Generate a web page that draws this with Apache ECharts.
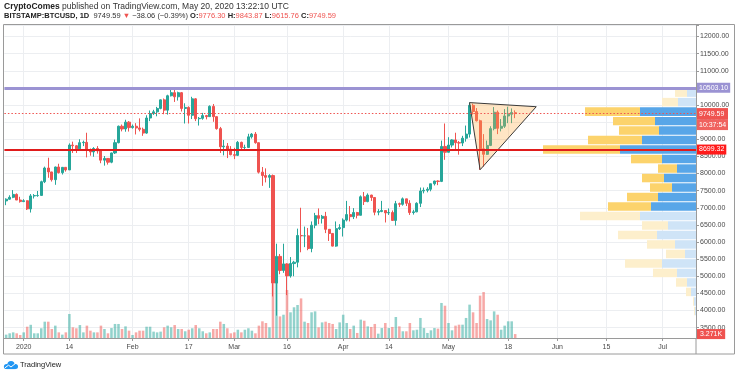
<!DOCTYPE html>
<html><head><meta charset="utf-8">
<script src="https://cdn.jsdelivr.net/npm/echarts@6/dist/echarts.min.js"></script>
<style>html,body{margin:0;padding:0;background:#fff}#c{width:736px;height:375px}</style>
</head><body><div id="c"></div>
<script>
// ---------------- data ----------------
const startDate = '2019-12-27';   // first category (first visible daily candle)
const dayCount = 197;             // categories through 2020-07-10 (right edge of the time axis)
const tickDates  = ['2020-01-01','2020-01-14','2020-02-01','2020-02-17','2020-03-01','2020-03-16','2020-04-01','2020-04-14','2020-05-01','2020-05-18','2020-06-01','2020-06-15','2020-07-01'];
const tickLabels = ['2020','14','Feb','17','Mar','16','Apr','14','May','18','Jun','15','Jul'];

// daily OHLC, 2019-12-27 .. 2020-05-20
const opens = [7200,7250,7305,7390,7225,
 7180,7205,6965,7345,7355,7360,7760,8160,8045,7820,8190,8025,8180,8105,8830,8810,8720,8900,8910,8700,8630,8730,8660,8390,8440,8330,8600,8900,9380,9300,9500,
 9340,9380,9330,9290,9180,9620,9750,9800,9900,10150,9850,10270,10360,10240,10360,9900,9930,9700,10180,9600,9610,9690,9660,9960,9660,9310,8780,8800,8710,
 8550,8530,8910,8760,8760,9070,9150,8900,8040,7940,7890,7940,4800,5580,5170,5360,5010,5370,5410,6190,6180,6180,5810,6490,6770,6690,6750,6370,6250,5880,6390,
 6420,6640,6800,6740,6860,6780,7320,7180,7370,7300,6870,6890,6920,6850,6860,6630,7120,7100,7260,7130,6860,6880,7130,7490,7510,7540,7700,7780,7770,8790,
 8620,8830,8980,8900,8890,9030,9150,9990,9810,9540,8720,8560,8820,9310,9790,9320,9380,9680,9730,9776.30];
const highs = [7275,7365,7515,7420,7320,
 7250,7215,7400,7400,7490,7790,8200,8460,8050,8200,8285,8190,8190,8880,8930,8830,9000,8960,9190,8730,8770,8800,8670,8510,8450,8610,8990,9400,9430,9570,9530,
 9430,9470,9610,9340,9700,9840,9860,9945,10160,10190,10300,10480,10500,10390,10380,10050,9960,10240,10200,9650,9770,9710,9990,10030,9670,9360,8980,8890,8800,
 8750,8950,8930,8840,9160,9180,9210,8900,8190,8150,7980,7970,5950,5650,5950,5380,5560,5450,6390,7000,6450,6410,6600,6850,6980,6790,6880,6380,6260,6600,6520,
 6690,7200,7050,6990,6880,7360,7460,7420,7380,7310,6960,7200,6930,6980,6920,7200,7150,7300,7260,7220,6940,7160,7590,7590,7600,7700,7790,7800,8960,9460,
 9060,9000,9190,8950,9100,9400,10070,10040,9910,9570,9150,8960,9380,9940,9840,9590,9880,9950,9900,9843.87];
const lows = [7075,7235,7280,7225,7150,
 7165,6935,6860,7270,7320,7350,7720,7875,7765,7670,8000,7970,8055,8105,8600,8600,8670,8800,8470,8520,8490,8580,8300,8230,8260,8300,8570,8880,9230,9220,9225,
 9310,9140,9230,9100,9160,9530,9710,9670,9875,9730,9720,10250,10090,10130,9810,9460,9460,9590,9530,9400,9570,9580,9650,9510,9280,8600,8530,8450,8530,
 8420,8510,8660,8670,8760,9020,8870,8000,7640,7740,7580,4410,3850,5060,5100,4450,4960,5000,5260,5700,5850,5760,5700,6400,6520,6540,6260,6030,5870,5860,6350,
 6160,6600,6600,6670,6690,6780,7080,7160,7200,6780,6780,6870,6570,6790,6620,6480,7020,7060,7050,6790,6800,6870,7020,7420,7450,7480,7650,7660,7750,8400,
 8620,8760,8710,8550,8800,8930,9050,9720,9520,8110,8200,8540,8800,9260,9150,9230,9330,9470,9470,9615.76];
const closes = [7250,7305,7390,7225,7180,
 7205,6965,7345,7355,7360,7760,8160,8045,7820,8190,8025,8180,8105,8830,8810,8720,8900,8910,8700,8630,8730,8660,8390,8440,8330,8600,8900,9380,9300,9500,9340,
 9380,9330,9290,9180,9620,9750,9800,9900,10150,9850,10270,10360,10240,10360,9900,9930,9700,10180,9600,9610,9690,9660,9960,9660,9310,8780,8800,8710,8550,
 8530,8910,8760,8760,9070,9150,8900,8040,7940,7890,7940,4800,5580,5170,5360,5010,5370,5410,6190,6180,6180,5810,6490,6770,6690,6750,6370,6250,5880,6390,6420,
 6640,6800,6740,6860,6780,7320,7180,7370,7300,6870,6890,6920,6850,6860,6630,7120,7100,7260,7130,6860,6880,7130,7490,7510,7540,7700,7780,7770,8790,8620,
 8830,8980,8900,8890,9030,9150,9990,9810,9540,8720,8560,8820,9310,9790,9320,9380,9680,9730,9780,9749.59];
// daily volume, thousands of BTC
const volumesK = [2.8,3.9,4.7,3.9,2.5,
 4.7,9.4,11,3.9,3.9,8.1,13.6,13.6,7.5,10.3,4.7,2.8,4.7,20,8.9,8.1,10.8,4.7,10.3,6.1,4.7,4.7,10.3,7.5,3.9,8.3,11.7,11.7,7.5,9.7,6.1,
 2.5,4.7,6.1,6.1,9.4,9.4,5.3,4.7,5.3,8.9,10.3,8.9,10.8,7.5,7.5,5.6,6.9,8.1,10.8,8.1,5.6,3.9,4.7,7.5,7.5,13.6,11.7,8.1,3.9,
 4.7,6.9,4.7,6.9,8.1,6.1,3.9,10.3,13.9,12.5,8.9,45,50,18,19.4,40,21.4,25.6,27.5,33,13.6,12.5,21.4,22.2,8.9,13,13.6,12.5,11.7,7.5,13,
 19.4,12.5,7.5,10.3,4.2,15.3,14.4,9.7,9.2,11.7,3.6,8.3,12.5,8.3,9.2,17.5,9.7,5.6,5.6,12.5,6.4,6.9,16.7,8.3,4.2,6.4,8.3,7.8,29.2,26.9,
 12.5,6.4,10.3,11.1,11.1,16.7,27.8,21.4,12.5,35.3,38.3,15.8,14.7,22.2,19.4,6.9,10.3,13.9,13.9,3.271];

// horizontal levels
const resistanceLevel = 10503.10;
const supportLevel = 8699.32;
const lastPrice = 9749.59;
const countdown = '10:37:54';
const lastVolumeLabel = '3.271K';
const lastVolumeK = 3.271;

// symmetrical triangle drawing (date, price)
const triangleDates  = ['2020-05-07','2020-05-26','2020-05-10'];
const trianglePrices = [10070, 9950, 8110];

// visible-range volume profile: bin low prices, up / down volume (relative), value-area flag
const profileLow  = [3850,4127,4404,4681,4958,5235,5512,5790,6067,6344,6621,6898,7175,7452,7729,8006,8283,8560,8837,9114,9391,9668,9946,10223];
const profileHigh = [4127,4404,4681,4958,5235,5512,5790,6067,6344,6621,6898,7175,7452,7729,8006,8283,8560,8837,9114,9391,9668,9946,10223,10500];
const profileUp   = [1,2,5,9,19,34,11,21,39,28,56,45,38,24,32,19,34,76,54,37,41,56,18,9];
const profileDown = [1,1,5,11,24,37,19,28,39,26,60,43,31,22,22,19,31,77,54,40,42,55,16,12];
const profileVA   = [0,0,0,0,0,0,0,0,0,0,0,1,1,1,1,1,1,1,1,1,1,1,0,0];

// ---------------- build ----------------
const categories = [];
{
  const t0 = Date.parse(startDate + 'T00:00:00Z');
  for (let i = 0; i < dayCount; i++) categories.push(new Date(t0 + i * 86400000).toISOString().slice(0, 10));
}
const isTick = (idx, val) => tickDates.indexOf(val) >= 0;
const UP = '#26a69a', DOWN = '#ef5350';
const FONT = '"Liberation Sans", Arial, sans-serif';
const candleData = opens.map((o, i) => [o, closes[i], lows[i], highs[i]]);
const volumeData = volumesK.map((v, i) => ({ value: v, itemStyle: { color: closes[i] >= opens[i] ? 'rgba(38,166,154,0.5)' : 'rgba(239,83,80,0.5)' } }));
const profileData = profileLow.map((lo, i) => [lo, profileHigh[i], profileUp[i], profileDown[i], profileVA[i]]);
const yMin = 3197, yMax = 12336;

const boxLabel = (bg) => ({
  show: true, position: 'end', distance: 1, color: '#fff', fontSize: 7, fontFamily: FONT,
  backgroundColor: bg, padding: [2, 2, 1, 2], formatter: p => Number(p.value).toFixed(2)
});

const option = {
  animation: false,
  textStyle: { fontFamily: FONT },
  title: [
    { left: 4, top: 2, padding: 0, text: '{b|CryptoComes} published on TradingView.com, May 20, 2020 13:22:10 UTC',
      textStyle: { fontSize: 8.5, fontWeight: 'normal', color: '#333', fontFamily: FONT,
        rich: { b: { fontSize: 8.5, fontWeight: 'bold', color: '#222', fontFamily: FONT } } } },
    { left: 4, top: 12, padding: 0,
      text: '{b|BITSTAMP:BTCUSD, 1D}  {n|9749.59} {r|▼} {n|−38.06 (−0.39%)} {b|O:}{r|9776.30} {b|H:}{r|9843.87} {b|L:}{r|9615.76} {b|C:}{r|9749.59}',
      textStyle: { fontSize: 7.5, fontWeight: 'normal', color: '#333', fontFamily: FONT,
        rich: { b: { fontSize: 7.5, fontWeight: 'bold', color: '#222', fontFamily: FONT },
                n: { fontSize: 7.5, color: '#333', fontFamily: FONT },
                r: { fontSize: 7.5, color: '#ef5350', fontFamily: FONT } } } },
    { left: 20, top: 361, padding: 0, text: 'TradingView', textStyle: { fontSize: 7.5, fontWeight: 'normal', color: '#222', fontFamily: FONT } }
  ],
  grid: [
    { left: 4.4, right: 40, top: 25, bottom: 37 },
    { left: 4.4, right: 40, bottom: 37, height: 120 },
    { right: 40, width: 156, top: 25, bottom: 37 }
  ],
  xAxis: [
    { type: 'category', gridIndex: 0, data: categories, boundaryGap: true,
      axisLine: { show: true, lineStyle: { color: '#9a9a9a', width: 1 } },
      axisTick: { show: true, interval: isTick, alignWithLabel: true, length: 3, lineStyle: { color: '#9a9a9a' } },
      axisLabel: { interval: isTick, formatter: v => tickLabels[tickDates.indexOf(v)] || '', fontSize: 7, color: '#4a4a4a', margin: 6, fontFamily: FONT },
      splitLine: { show: true, interval: isTick, alignWithLabel: true, lineStyle: { color: '#eceef1', width: 1 } } },
    { type: 'category', gridIndex: 1, data: categories, boundaryGap: true, show: false },
    { type: 'value', gridIndex: 2, min: 0, max: 156, inverse: true, show: false }
  ],
  yAxis: [
    { type: 'value', gridIndex: 0, position: 'right', min: yMin, max: yMax, splitNumber: 18,
      axisLine: { show: true, lineStyle: { color: '#9a9a9a', width: 1 } },
      axisTick: { show: true, length: 3, lineStyle: { color: '#9a9a9a' } },
      axisLabel: { fontSize: 7, color: '#4a4a4a', margin: 4, fontFamily: FONT,
        formatter: v => (Math.abs(v % 500) < 1e-6 ? v.toFixed(2) : '') },
      splitLine: { show: true, lineStyle: { color: '#eceef1', width: 1 } } },
    { type: 'value', gridIndex: 1, min: 0, max: 100, show: false },
    { type: 'value', gridIndex: 2, min: yMin, max: yMax, show: false }
  ],
  series: [
    { type: 'bar', name: 'Volume', xAxisIndex: 1, yAxisIndex: 1, data: volumeData, barWidth: '72%', z: 1,
      markLine: { symbol: 'none', silent: true, animation: false,
        data: [{ yAxis: lastVolumeK, lineStyle: { color: 'rgba(0,0,0,0)', width: 1 },
          label: { show: true, position: 'end', distance: 1, color: '#fff', fontSize: 7, fontFamily: FONT,
            backgroundColor: '#ef5350', padding: [2, 3, 1, 3], formatter: lastVolumeLabel } }] } },
    { type: 'candlestick', name: 'BTCUSD', xAxisIndex: 0, yAxisIndex: 0, data: candleData, barWidth: '74%', z: 2,
      itemStyle: { color: UP, color0: DOWN, borderColor: UP, borderColor0: DOWN, borderWidth: 1 },
      markLine: { symbol: 'none', silent: true, animation: false,
        data: [{ yAxis: lastPrice, lineStyle: { color: '#ef5350', width: 1, type: [1.5, 2] },
          label: { show: true, position: 'end', distance: 1, fontFamily: FONT,
            formatter: '{e|}\n{a|' + lastPrice.toFixed(2) + '}\n{b|' + countdown + '}',
            rich: { e: { height: 11, fontSize: 7 },
                    a: { height: 11, lineHeight: 11, fontSize: 7, color: '#fff', backgroundColor: '#ef5350', padding: [0, 2], width: 27, fontFamily: FONT },
                    b: { height: 11, lineHeight: 11, fontSize: 7, color: '#fff', backgroundColor: '#f0625f', padding: [0, 2], width: 27, fontFamily: FONT } } } }] } },
    { type: 'custom', name: 'Volume profile', xAxisIndex: 2, yAxisIndex: 2, z: 3, data: profileData,
      encode: { x: 2, y: 1 }, silent: true,
      renderItem: function (params, api) {
        const lo = api.value(0), hi = api.value(1), up = api.value(2), dn = api.value(3), va = api.value(4);
        const pR = api.coord([0, hi]);
        const pU = api.coord([up, lo]);
        const pT = api.coord([up + dn, lo]);
        const top = pR[1] + 0.5, h = Math.max(pU[1] - pR[1] - 1, 0.5);
        return { type: 'group', children: [
          { type: 'rect', shape: { x: pU[0], y: top, width: pR[0] - pU[0], height: h }, style: { fill: va ? '#58a6e8' : '#cfe4f7' } },
          { type: 'rect', shape: { x: pT[0], y: top, width: pU[0] - pT[0], height: h }, style: { fill: va ? '#fcd36c' : '#fdefcc' } }
        ] };
      } },
    { type: 'custom', name: 'Triangle', xAxisIndex: 0, yAxisIndex: 0, z: 4, silent: true,
      data: [[categories.indexOf(triangleDates[0]), trianglePrices[0]]],
      renderItem: function (params, api) {
        const pts = triangleDates.map((d, i) => api.coord([categories.indexOf(d), trianglePrices[i]]));
        return { type: 'polygon', shape: { points: pts }, style: { fill: 'rgba(255,175,70,0.32)', stroke: '#3a3a3a', lineWidth: 1 } };
      },
      markLine: { symbol: 'none', silent: true, animation: false,
        data: [
          { yAxis: resistanceLevel, lineStyle: { color: '#9b93d3', width: 3, type: 'solid' }, label: boxLabel('#9b93d3') },
          { yAxis: supportLevel, lineStyle: { color: '#e01b1b', width: 2, type: 'solid' }, label: boxLabel('#ff1a1a') }
        ] } }
  ],
  graphic: [
    { type: 'rect', silent: true, z: 100, shape: { x: 3.5, y: 24.5, width: 731, height: 329.5 }, style: { fill: 'none', stroke: '#9a9a9a', lineWidth: 1 } },
    { type: 'line', silent: true, z: 100, shape: { x1: 696, y1: 338, x2: 696, y2: 354 }, style: { stroke: '#9a9a9a', lineWidth: 1 } },
    { type: 'circle', silent: true, z: 100, shape: { cx: 6.5, cy: 366.5, r: 2.6 }, style: { fill: '#2196f3' } },
    { type: 'circle', silent: true, z: 100, shape: { cx: 11, cy: 364.6, r: 3.6 }, style: { fill: '#2196f3' } },
    { type: 'circle', silent: true, z: 100, shape: { cx: 15.5, cy: 366.6, r: 2.5 }, style: { fill: '#2196f3' } },
    { type: 'rect', silent: true, z: 100, shape: { x: 6.5, y: 366, width: 9, height: 3.1 }, style: { fill: '#2196f3' } },
    { type: 'polyline', silent: true, z: 101, shape: { points: [[5, 367.8], [8.5, 365.2], [11, 367], [15, 363.8]] }, style: { stroke: '#fff', lineWidth: 1, fill: 'none' } }
  ]
};

const chart = echarts.init(document.getElementById('c'), null, { renderer: 'canvas', width: 736, height: 375 });
chart.setOption(option);
</script>
</body></html>
